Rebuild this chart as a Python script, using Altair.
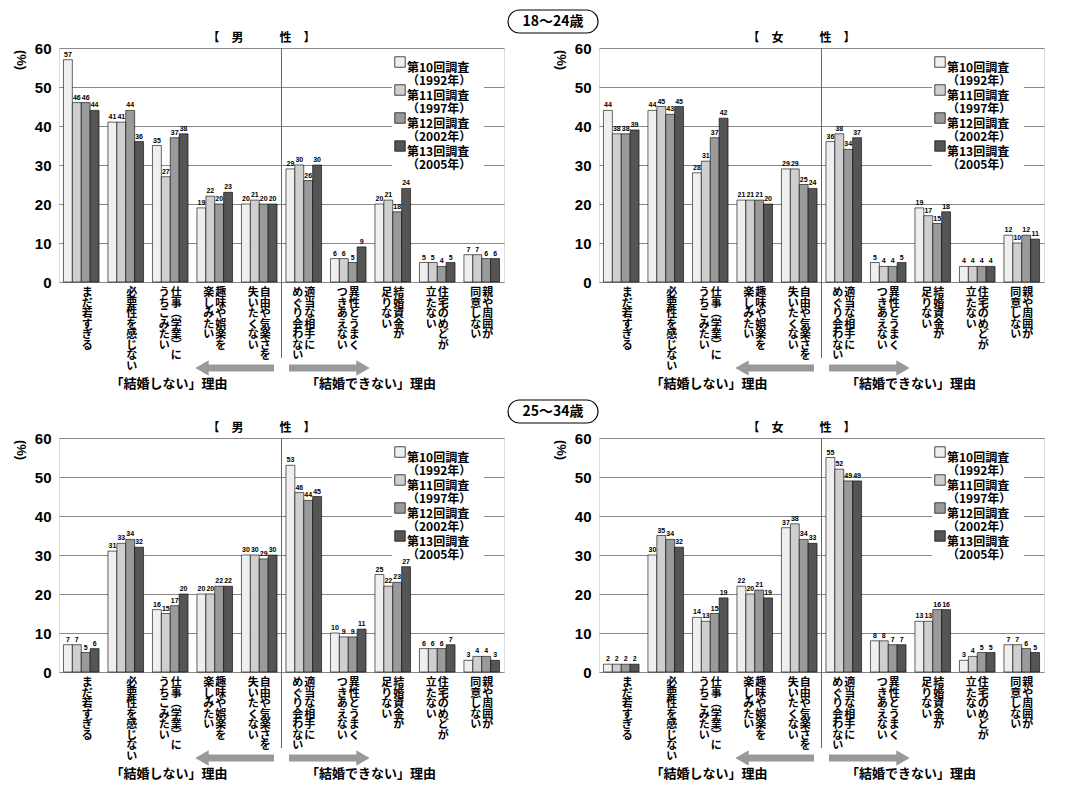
import altair as alt
import pandas as pd

FONT = "Noto Sans CJK JP"

categories = ["まだ若すぎる", "必要性を感じない", "仕事（学業）にうちこみたい",
              "趣味や娯楽を楽しみたい", "自由や気楽さを失いたくない",
              "適当な相手にめぐり会わない", "異性とうまくつきあえない",
              "結婚資金が足りない", "住宅のめどが立たない", "親や周囲が同意しない"]
# vertical label columns: (first column = right, second column = left)
label_col1 = ["まだ若すぎる", "必要性を感じない", "仕事︵学業︶に", "趣味や娯楽を",
              "自由や気楽さを", "適当な相手に", "異性とうまく", "結婚資金が",
              "住宅のめどが", "親や周囲が"]
label_col2 = ["", "", "うちこみたい", "楽しみたい", "失いたくない",
              "めぐり会わない", "つきあえない", "足りない", "立たない", "同意しない"]

series = ["第10回調査", "第11回調査", "第12回調査", "第13回調査"]
years = ["（1992年）", "（1997年）", "（2002年）", "（2005年）"]
colors = ["#efefef", "#cfcfcf", "#9a9a9a", "#555555"]
y_ticks = [0, 10, 20, 30, 40, 50, 60]

male_18_24 = [[57, 46, 46, 44], [41, 41, 44, 36], [35, 27, 37, 38], [19, 22, 20, 23],
              [20, 21, 20, 20], [29, 30, 26, 30], [6, 6, 5, 9], [20, 21, 18, 24],
              [5, 5, 4, 5], [7, 7, 6, 6]]
female_18_24 = [[44, 38, 38, 39], [44, 45, 43, 45], [28, 31, 37, 42], [21, 21, 21, 20],
                [29, 29, 25, 24], [36, 38, 34, 37], [5, 4, 4, 5], [19, 17, 15, 18],
                [4, 4, 4, 4], [12, 10, 12, 11]]
male_25_34 = [[7, 7, 5, 6], [31, 33, 34, 32], [16, 15, 17, 20], [20, 20, 22, 22],
              [30, 30, 29, 30], [53, 46, 44, 45], [10, 9, 9, 11], [25, 22, 23, 27],
              [6, 6, 6, 7], [3, 4, 4, 3]]
female_25_34 = [[2, 2, 2, 2], [30, 35, 34, 32], [14, 13, 15, 19], [22, 20, 21, 19],
                [37, 38, 34, 33], [55, 52, 49, 49], [8, 8, 7, 7], [13, 13, 16, 16],
                [3, 4, 5, 5], [7, 7, 6, 5]]

W, H = 445, 234


def panel(values, sex, age=None):
    rows = []
    for c, vals in zip(categories, values):
        for s, v in zip(series, vals):
            rows.append({"cat": c, "series": s, "value": v})
    df = pd.DataFrame(rows)

    x = alt.X("cat:N", sort=categories, scale=alt.Scale(paddingInner=0.2, paddingOuter=0.1),
              axis=alt.Axis(labels=False, ticks=False, title=None, domain=False))
    y = alt.Y("value:Q", scale=alt.Scale(domain=[0, 60], nice=False),
              axis=alt.Axis(values=y_ticks, title=None, grid=True,
                            gridColor="#888", ticks=False, domain=False,
                            labelOverlap=False, labelFontSize=15,
                            labelFontWeight="bold", labelFont="Arial",
                            labelPadding=8))
    base = alt.Chart(df).encode(x=x, y=y)
    bars = base.mark_bar(stroke="black", strokeWidth=0.6).encode(
        xOffset=alt.XOffset("series:N", sort=series),
        color=alt.Color("series:N", sort=series, legend=None,
                        scale=alt.Scale(domain=series, range=colors)),
    )
    nums = base.mark_text(fontSize=7, fontWeight="bold", dy=-5, font="Arial",
                          color="black").encode(
        xOffset=alt.XOffset("series:N", sort=series), text="value:Q")

    lab = pd.DataFrame({"cat": categories,
                        "c1": [list(t) for t in label_col1],
                        "c2": [list(t) for t in label_col2]})
    lb = alt.Chart(lab).encode(x=alt.X("cat:N", sort=categories))
    t1 = lb.mark_text(fontSize=11, fontWeight="bold", font=FONT, baseline="top",
                      lineHeight=10.5, dx=6).encode(y=alt.value(H + 5), text="c1")
    t2 = lb.mark_text(fontSize=11, fontWeight="bold", font=FONT, baseline="top",
                      lineHeight=10.5, dx=-6).encode(y=alt.value(H + 5), text="c2")

    deco = alt.Chart(pd.DataFrame({"k": [0]}))
    divider = deco.mark_rule(color="#666").encode(
        x=alt.value(W / 2), y=alt.value(0), y2=alt.value(H + 76))
    arrow_l = deco.mark_rule(color="#999", strokeWidth=7).encode(
        x=alt.value(148), x2=alt.value(215), y=alt.value(H + 86))
    head_l = deco.mark_point(shape="triangle-left", size=240, filled=True, color="#999",
                             opacity=1).encode(x=alt.value(143), y=alt.value(H + 86))
    arrow_r = deco.mark_rule(color="#999", strokeWidth=7).encode(
        x=alt.value(230), x2=alt.value(298), y=alt.value(H + 86))
    head_r = deco.mark_point(shape="triangle-right", size=240, filled=True, color="#999",
                             opacity=1).encode(x=alt.value(304), y=alt.value(H + 86))
    reason1 = deco.mark_text(text="「結婚しない」理由", fontSize=13, fontWeight="bold",
                             font=FONT).encode(x=alt.value(110), y=alt.value(H + 102))
    reason2 = deco.mark_text(text="「結婚できない」理由", fontSize=13, fontWeight="bold",
                             font=FONT).encode(x=alt.value(312), y=alt.value(H + 102))
    pct = deco.mark_text(text="(%)", fontSize=13, fontWeight="bold", angle=90,
                         font="Arial").encode(x=alt.value(-38), y=alt.value(12))
    title = deco.mark_text(text="【　" + sex[0] + "　　　" + sex[1] + "　】", fontSize=12,
                           fontWeight="bold", font=FONT).encode(
        x=alt.value(W / 2 - 20), y=alt.value(-10))

    # legend box
    lx, ly = 333, 6
    leg_df = pd.DataFrame({"series": series,
                           "txt": [[s, yr] for s, yr in zip(series, years)],
                           "yy": [ly + 8 + 28 * i for i in range(4)]})
    lg = alt.Chart(leg_df)
    leg_bg = deco.mark_rect(color="white").encode(
        x=alt.value(lx), x2=alt.value(lx + 92), y=alt.value(ly), y2=alt.value(ly + 114))
    leg_sq = lg.mark_square(size=110, stroke="black", strokeWidth=0.7, opacity=1).encode(
        x=alt.value(lx + 8), y=alt.Y("yy:Q", scale=None, axis=None),
        fill=alt.Fill("series:N", sort=series, legend=None,
                      scale=alt.Scale(domain=series, range=colors)))
    leg_tx = lg.mark_text(fontSize=12, fontWeight="bold", font=FONT, align="left",
                          baseline="middle", lineHeight=13, dy=6).encode(
        x=alt.value(lx + 15), y=alt.Y("yy:Q", scale=None, axis=None), text="txt")

    layers = [bars, nums, divider, t1, t2, arrow_l, head_l, arrow_r, head_r,
              reason1, reason2, pct, title, leg_bg, leg_sq, leg_tx]
    if age:
        box = deco.mark_rect(fill="white", stroke="black", strokeWidth=1.2,
                             cornerRadius=12).encode(
            x=alt.value(W + 4), x2=alt.value(W + 94),
            y=alt.value(-38), y2=alt.value(-15))
        age_t = deco.mark_text(text=age, fontSize=14, fontWeight="bold", font=FONT).encode(
            x=alt.value(W + 49), y=alt.value(-26))
        layers += [box, age_t]
    return alt.layer(*layers).resolve_scale(color="independent").properties(width=W, height=H)


top = alt.hconcat(panel(male_18_24, "男性", "18～24歳"), panel(female_18_24, "女性"),
                  spacing=95, bounds="flush")
bottom = alt.hconcat(panel(male_25_34, "男性", "25～34歳"), panel(female_25_34, "女性"),
                     spacing=95, bounds="flush")
chart = alt.vconcat(top, bottom, spacing=6).configure_view(
    stroke="black", strokeWidth=1).configure(padding={"left": 5, "top": 0, "right": 0, "bottom": 0})

chart.save("out.html", embed_options={"renderer": "svg", "actions": False})
